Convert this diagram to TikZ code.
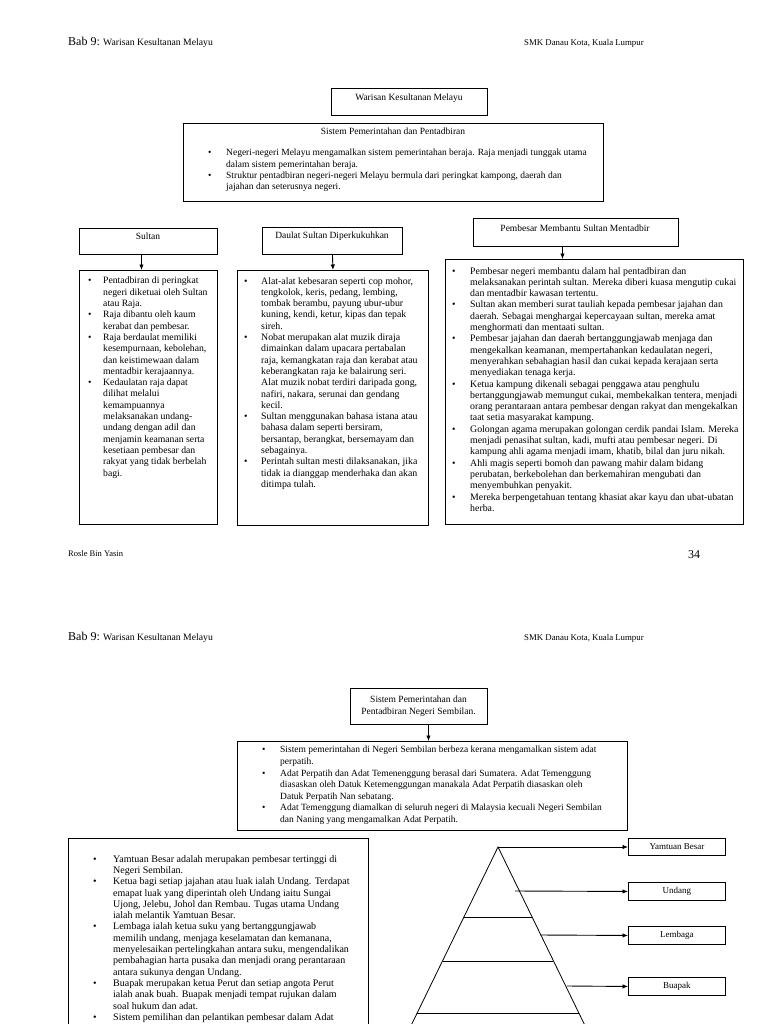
\documentclass[tikz,border=0pt]{standalone}
\usepackage{fontspec}
\setmainfont{Liberation Serif}
\usetikzlibrary{arrows.meta}
\newcommand\bu[1][17pt]{\makebox[#1][l]{\textbullet}}
\newcommand\ind[1][17pt]{\hspace*{#1}}
\begin{document}
\begin{tikzpicture}[x=1pt,y=-1pt,
  box/.style={draw, line width=0.9pt, inner sep=0pt, anchor=north west},
  ttl/.style={inner sep=0pt, font=\fontsize{9.5}{11.5}\selectfont, align=center},
  lbl/.style={inner sep=0pt, font=\fontsize{9}{11}\selectfont},
  txt/.style={inner sep=0pt, anchor=north west, align=left, font=\fontsize{9.5}{11.3}\selectfont},
  hdr/.style={inner sep=0pt, anchor=base west},
  arr/.style={-{Latex[length=5.5pt,width=4.5pt]}, line width=0.9pt},
  ln/.style={line width=0.8pt}]
\useasboundingbox (0,0) rectangle (768,1024);
\fill[white] (0,0) rectangle (768,1024);
\clip (0,0) rectangle (768,1024);

% ---------- page 1 header ----------
\node[hdr] (h1a) at (68,46) {{\fontsize{12}{14}\selectfont Bab 9:} {\fontsize{9.7}{11}\selectfont Warisan Kesultanan Melayu}};
\node[hdr, font=\fontsize{8.8}{10}\selectfont] (h1b) at (524,46) {SMK Danau Kota, Kuala Lumpur};

% ---------- title ----------
\node[box, minimum width=156pt, minimum height=27pt] (title) at (331,88) {};
\node[ttl] (titleT) at (409,98) {Warisan Kesultanan Melayu};

\node[box, minimum width=420pt, minimum height=78pt] (sistem) at (183,123) {};
\node[ttl] (sistemT) at (393,131) {Sistem Pemerintahan dan Pentadbiran};
\node[txt] (sistemL) at (208,149) {%
\bu[18pt]Negeri-negeri Melayu mengamalkan sistem pemerintahan beraja. Raja menjadi tunggak utama\\
\ind[18pt]dalam sistem pemerintahan beraja.\\
\bu[18pt]Struktur pentadbiran negeri-negeri Melayu bermula dari peringkat kampong, daerah dan\\
\ind[18pt]jajahan dan seterusnya negeri.};

% ---------- Sultan column ----------
\node[box, minimum width=138pt, minimum height=26pt] (sultan) at (79,228) {};
\node[ttl] (sultanT) at (148,236) {Sultan};
\node[box, minimum width=138pt, minimum height=254pt] (sultanC) at (79,270) {};
\draw[arr] ([xshift=-7pt]sultan.south) -- ([xshift=-7pt]sultanC.north);
\node[txt, font=\fontsize{9.7}{11.3}\selectfont] (sultanL) at (88,277) {%
\bu[15pt]Pentadbiran di peringkat\\
\ind[15pt]negeri diketuai oleh Sultan\\
\ind[15pt]atau Raja.\\
\bu[15pt]Raja dibantu oleh kaum\\
\ind[15pt]kerabat dan pembesar.\\
\bu[15pt]Raja berdaulat memiliki\\
\ind[15pt]kesempurnaan, kebolehan,\\
\ind[15pt]dan keistimewaan dalam\\
\ind[15pt]mentadbir kerajaannya.\\
\bu[15pt]Kedaulatan raja dapat\\
\ind[15pt]dilihat melalui\\
\ind[15pt]kemampuannya\\
\ind[15pt]melaksanakan undang-\\
\ind[15pt]undang dengan adil dan\\
\ind[15pt]menjamin keamanan serta\\
\ind[15pt]kesetiaan pembesar dan\\
\ind[15pt]rakyat yang tidak berbelah\\
\ind[15pt]bagi.};

% ---------- Daulat column ----------
\node[box, minimum width=140pt, minimum height=27pt] (daulat) at (262,227) {};
\node[ttl] (daulatT) at (332,236) {Daulat Sultan Diperkukuhkan};
\node[box, minimum width=191pt, minimum height=255pt] (daulatC) at (237,270) {};
\draw[arr] (daulat.south) -- (daulatC.north);
\node[txt, font=\fontsize{9.85}{11.3}\selectfont] (daulatL) at (244,277) {%
\bu Alat-alat kebesaran seperti cop mohor,\\
\ind tengkolok, keris, pedang, lembing,\\
\ind tombak berambu, payung ubur-ubur\\
\ind kuning, kendi, ketur, kipas dan tepak\\
\ind sireh.\\
\bu Nobat merupakan alat muzik diraja\\
\ind dimainkan dalam upacara pertabalan\\
\ind raja, kemangkatan raja dan kerabat atau\\
\ind keberangkatan raja ke balairung seri.\\
\ind Alat muzik nobat terdiri daripada gong,\\
\ind nafiri, nakara, serunai dan gendang\\
\ind kecil.\\
\bu Sultan menggunakan bahasa istana atau\\
\ind bahasa dalam seperti bersiram,\\
\ind bersantap, berangkat, bersemayam dan\\
\ind sebagainya.\\
\bu Perintah sultan mesti dilaksanakan, jika\\
\ind tidak ia dianggap menderhaka dan akan\\
\ind ditimpa tulah.};

% ---------- Pembesar column ----------
\node[box, minimum width=205pt, minimum height=28pt] (pemb) at (473,218) {};
\node[ttl] (pembT) at (575,228) {Pembesar Membantu Sultan Mentadbir};
\node[box, minimum width=298pt, minimum height=265pt] (pembC) at (445,259) {};
\draw[arr] ([xshift=-13.5pt]pemb.south) -- ([xshift=-13.5pt]pemb.south |- pembC.north);
\node[txt, font=\fontsize{9.85}{11.3}\selectfont] (pembL) at (452,267) {%
\bu[18pt]Pembesar negeri membantu dalam hal pentadbiran dan\\
\ind[18pt]melaksanakan perintah sultan. Mereka diberi kuasa mengutip cukai\\
\ind[18pt]dan mentadbir kawasan tertentu.\\
\bu[18pt]Sultan akan memberi surat tauliah kepada pembesar jajahan dan\\
\ind[18pt]daerah. Sebagai menghargai kepercayaan sultan, mereka amat\\
\ind[18pt]menghormati dan mentaati sultan.\\
\bu[18pt]Pembesar jajahan dan daerah bertanggungjawab menjaga dan\\
\ind[18pt]mengekalkan keamanan, mempertahankan kedaulatan negeri,\\
\ind[18pt]menyerahkan sebahagian hasil dan cukai kepada kerajaan serta\\
\ind[18pt]menyediakan tenaga kerja.\\
\bu[18pt]Ketua kampung dikenali sebagai penggawa atau penghulu\\
\ind[18pt]bertanggungjawab memungut cukai, membekalkan tentera, menjadi\\
\ind[18pt]orang perantaraan antara pembesar dengan rakyat dan mengekalkan\\
\ind[18pt]taat setia masyarakat kampung.\\
\bu[18pt]Golongan agama merupakan golongan cerdik pandai Islam. Mereka\\
\ind[18pt]menjadi penasihat sultan, kadi, mufti atau pembesar negeri. Di\\
\ind[18pt]kampung ahli agama menjadi imam, khatib, bilal dan juru nikah.\\
\bu[18pt]Ahli magis seperti bomoh dan pawang mahir dalam bidang\\
\ind[18pt]perubatan, berkebolehan dan berkemahiran mengubati dan\\
\ind[18pt]menyembuhkan penyakit.\\
\bu[18pt]Mereka berpengetahuan tentang khasiat akar kayu dan ubat-ubatan\\
\ind[18pt]herba.};

% ---------- page 1 footer ----------
\node[hdr, font=\fontsize{8.5}{10}\selectfont] (f1a) at (68,556) {Rosle Bin Yasin};
\node[hdr, font=\fontsize{12}{14}\selectfont] (f1b) at (688,558) {34};

% ---------- page 2 header ----------
\node[hdr] (h2a) at (68,640) {{\fontsize{12}{14}\selectfont Bab 9:} {\fontsize{9.7}{11}\selectfont Warisan Kesultanan Melayu}};
\node[hdr, font=\fontsize{8.8}{10}\selectfont] (h2b) at (524,640) {SMK Danau Kota, Kuala Lumpur};

% ---------- Negeri Sembilan ----------
\node[box, minimum width=137pt, minimum height=36pt] (ns) at (350,688) {};
\node[ttl] (nsT) at (418.5,706) {Sistem Pemerintahan dan\\Pentadbiran Negeri Sembilan.};
\node[box, minimum width=390pt, minimum height=89pt] (nsC) at (237,741) {};
\draw[arr] ([xshift=9.5pt]ns.south) -- ([xshift=9.5pt]ns.south |- nsC.north);
\node[txt, font=\fontsize{9.5}{11.6}\selectfont] (nsL) at (262,746) {%
\bu[18pt]Sistem pemerintahan di Negeri Sembilan berbeza kerana mengamalkan sistem adat\\
\ind[18pt]perpatih.\\
\bu[18pt]Adat Perpatih dan Adat Temenenggung berasal dari Sumatera. Adat Temenggung\\
\ind[18pt]diasaskan oleh Datuk Ketemenggungan manakala Adat Perpatih diasaskan oleh\\
\ind[18pt]Datuk Perpatih Nan sebatang.\\
\bu[18pt]Adat Temenggung diamalkan di seluruh negeri di Malaysia kecuali Negeri Sembilan\\
\ind[18pt]dan Naning yang mengamalkan Adat Perpatih.};

% ---------- left box ----------
\node[box, minimum width=300pt, minimum height=240pt] (left) at (68,838) {};
\node[txt, font=\fontsize{10}{11.3}\selectfont] (leftL) at (93,855) {%
\bu[20pt]Yamtuan Besar adalah merupakan pembesar tertinggi di\\
\ind[20pt]Negeri Sembilan.\\
\bu[20pt]Ketua bagi setiap jajahan atau luak ialah Undang. Terdapat\\
\ind[20pt]emapat luak yang diperintah oleh Undang iaitu Sungai\\
\ind[20pt]Ujong, Jelebu, Johol dan Rembau. Tugas utama Undang\\
\ind[20pt]ialah melantik Yamtuan Besar.\\
\bu[20pt]Lembaga ialah ketua suku yang bertanggungjawab\\
\ind[20pt]memilih undang, menjaga keselamatan dan kemanana,\\
\ind[20pt]menyelesaikan pertelingkahan antara suku, mengendalikan\\
\ind[20pt]pembahagian harta pusaka dan menjadi orang perantaraan\\
\ind[20pt]antara sukunya dengan Undang.\\
\bu[20pt]Buapak merupakan ketua Perut dan setiap angota Perut\\
\ind[20pt]ialah anak buah. Buapak menjadi tempat rujukan dalam\\
\ind[20pt]soal hukum dan adat.\\
\bu[20pt]Sistem pemilihan dan pelantikan pembesar dalam Adat};

% ---------- pyramid ----------
\coordinate (apex) at (498,847);
\coordinate (bl) at (404,1040);
\coordinate (br) at (592,1040);
\draw[ln] (bl) -- (apex) -- (br);
\draw[ln] (464,917) -- (532,917);
\draw[ln] (443,961) -- (553,961);
\draw[ln] (417,1013) -- (579,1013);

\node[box, minimum width=97pt, minimum height=17pt] (yb) at (628,838) {};
\node[lbl] at (yb.center) {Yamtuan Besar};
\node[box, minimum width=97pt, minimum height=18pt] (und) at (628,882) {};
\node[lbl] at (und.center) {Undang};
\node[box, minimum width=97pt, minimum height=18pt] (lem) at (628,926) {};
\node[lbl] at (lem.center) {Lembaga};
\node[box, minimum width=97pt, minimum height=18pt] (bua) at (628,977) {};
\node[lbl] at (bua.center) {Buapak};

\coordinate (u0) at (515,891);
\coordinate (l0) at (540,935);
\coordinate (b0) at (567,986);
\draw[arr] (apex) -- (apex -| yb.west);
\draw[arr] (u0) -- (und.west);
\draw[arr] (l0) -- (lem.west);
\draw[arr] (b0) -- (bua.west);
\end{tikzpicture}
\end{document}
